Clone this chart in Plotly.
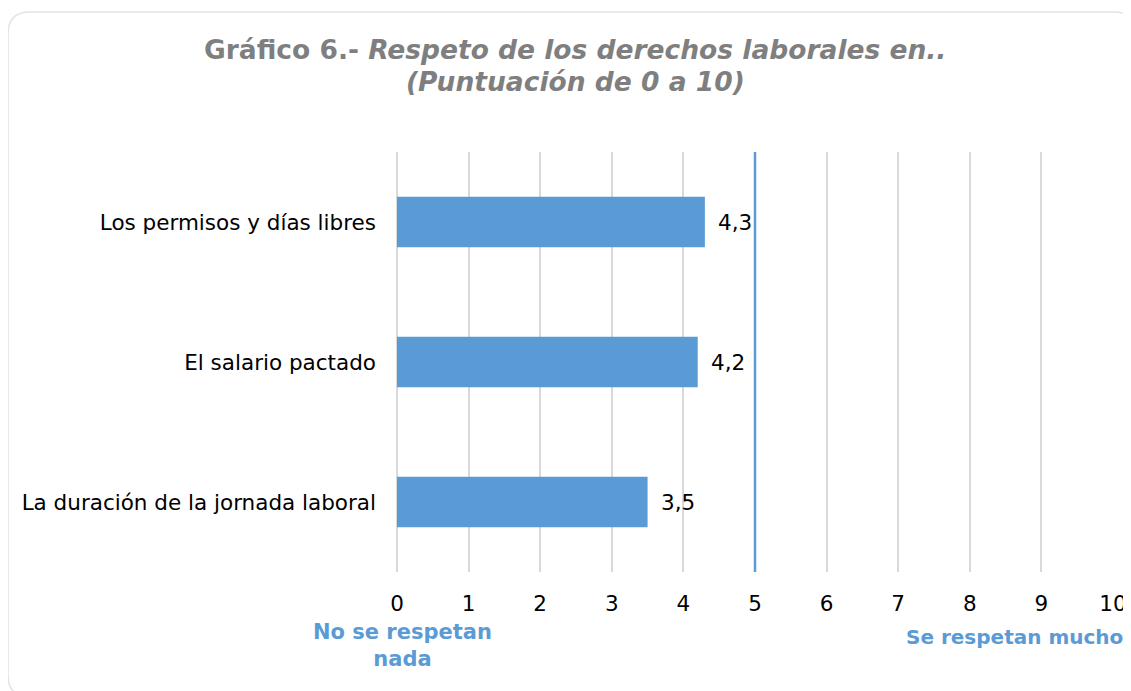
import plotly.graph_objects as go

# data
categories = ["La duración de la jornada laboral", "El salario pactado", "Los permisos y días libres"]
values = [3.5, 4.2, 4.3]
x_ticks = list(range(0, 11))
threshold = 5
title_main = "Gráfico 6.-"
title_italic = "Respeto de los derechos laborales en.."
title_sub = "(Puntuación de 0 a 10)"
low_label = "No se respetan<br>nada"
high_label = "Se respetan mucho"

W, H = 1131, 691
OFF = 8  # page body margin
L, R, T, B = 389, 26, 144, 127
BLUE = "#5B9BD5"
GRID = "#D9D9D9"
FONT = "DejaVu Sans"

pw, ph = W - L - R, H - T - B


def px(x):
    # page pixel -> paper x
    return (x - OFF - L) / pw


def py(y):
    # page pixel -> paper y
    return (H - B - (y - OFF)) / ph


fig = go.Figure()
fig.add_trace(go.Bar(
    x=values,
    y=categories,
    orientation="h",
    marker=dict(color=BLUE, line=dict(width=0)),
    showlegend=False,
    hoverinfo="x+y",
))

annotations = []
for c, v in zip(categories, values):
    annotations.append(dict(
        x=v, y=c, xref="x", yref="y",
        text=f"{v:.1f}".replace(".", ","),
        showarrow=False, xanchor="left", xshift=11,
        font=dict(size=21.5, color="#000000", family=FONT),
    ))

# title
annotations.append(dict(
    x=px(575), y=py(50), xref="paper", yref="paper",
    text=f"<b>{title_main} <i>{title_italic}</i></b>",
    showarrow=False, xanchor="center", yanchor="middle",
    font=dict(size=26.5, color="#7F7F7F", family=FONT),
))
annotations.append(dict(
    x=px(575), y=py(82), xref="paper", yref="paper",
    text=f"<b><i>{title_sub}</i></b>",
    showarrow=False, xanchor="center", yanchor="middle",
    font=dict(size=26.5, color="#7F7F7F", family=FONT),
))

# axis end labels
annotations.append(dict(
    x=px(402), y=py(645), xref="paper", yref="paper",
    text=f"<b>{low_label}</b>",
    showarrow=False, xanchor="center", yanchor="middle",
    font=dict(size=21, color=BLUE, family=FONT),
))
annotations.append(dict(
    x=px(904), y=py(637), xref="paper", yref="paper",
    text=f"<b>{high_label}</b>",
    showarrow=False, xanchor="left", yanchor="middle",
    font=dict(size=20, color=BLUE, family=FONT),
))

# rounded outer frame (page pixel coords -> paper)
x0, y0, x1, y1, r = 8, 12, 1136, 697, 22
rx, ry = r / pw, r / ph
frame_path = (
    f"M {px(x0) + rx} {py(y0)} "
    f"L {px(x1) - rx} {py(y0)} "
    f"Q {px(x1)} {py(y0)} {px(x1)} {py(y0) - ry} "
    f"L {px(x1)} {py(y1) + ry} "
    f"Q {px(x1)} {py(y1)} {px(x1) - rx} {py(y1)} "
    f"L {px(x0) + rx} {py(y1)} "
    f"Q {px(x0)} {py(y1)} {px(x0)} {py(y1) + ry} "
    f"L {px(x0)} {py(y0) - ry} "
    f"Q {px(x0)} {py(y0)} {px(x0) + rx} {py(y0)} Z"
)

shapes = [
    dict(type="path", path=frame_path, xref="paper", yref="paper",
         line=dict(color="#E3E3E3", width=1.5), layer="below"),
    dict(type="line", x0=threshold, x1=threshold, y0=0, y1=1,
         xref="x", yref="paper", line=dict(color=BLUE, width=2.5), layer="above"),
]

fig.update_layout(
    width=W,
    height=H,
    margin=dict(l=L, r=R, t=T, b=B, autoexpand=False),
    paper_bgcolor="white",
    plot_bgcolor="white",
    bargap=0.64,
    font=dict(family=FONT, size=21.5, color="#000000"),
    annotations=annotations,
    shapes=shapes,
    showlegend=False,
)

fig.update_xaxes(
    range=[0, 10],
    tickvals=x_ticks,
    ticktext=[str(t) for t in x_ticks],
    showgrid=True,
    gridcolor=GRID,
    gridwidth=2,
    zeroline=True,
    zerolinecolor=GRID,
    zerolinewidth=2,
    showline=False,
    ticks="",
    ticklabelstandoff=16,
    tickfont=dict(size=21.5, color="#000000", family=FONT),
)
fig.update_yaxes(
    showgrid=False,
    zeroline=False,
    showline=False,
    ticks="",
    ticklabelstandoff=20,
    tickfont=dict(size=21.5, color="#000000", family=FONT),
)

fig.write_html("out.html")
